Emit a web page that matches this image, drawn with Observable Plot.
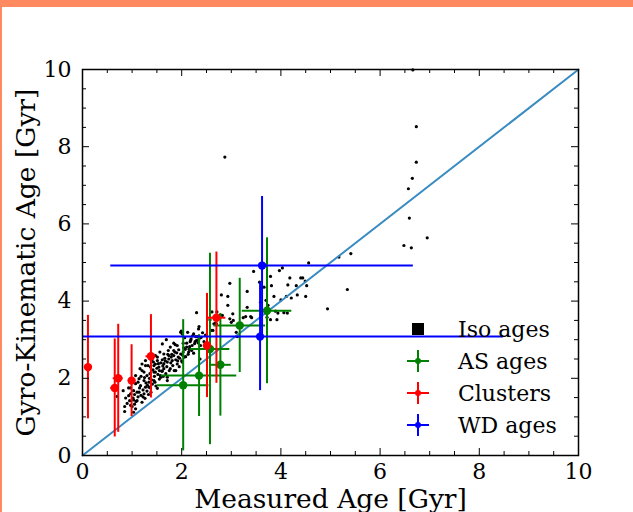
<!DOCTYPE html>
<html><head><meta charset="utf-8">
<script src="https://cdn.jsdelivr.net/npm/d3@7"></script>
<script src="https://cdn.jsdelivr.net/npm/@observablehq/plot@0.6"></script>
<style>
html,body{margin:0;padding:0;background:#fff;}
#wrap{position:relative;width:633px;height:512px;overflow:hidden;background:#fff;}
#topbar{position:absolute;left:0;top:0;width:633px;height:7px;background:#ff8a5f;}
#leftbar{position:absolute;left:0;top:0;width:2px;height:512px;background:#ff8a5f;}
#chart{position:absolute;left:0;top:7px;}
#legend{position:absolute;left:0;top:0;pointer-events:none;}
</style></head>
<body><div id="wrap"><div id="chart"></div><div id="topbar"></div><div id="leftbar"></div><svg id="legend" width="633" height="512"></svg></div>
<script>
// ---- data ----
const isoPoints = [
[6.66,9.99],[6.73,8.52],[2.87,7.73],[6.73,7.60],[6.65,7.18],[6.57,6.91],[6.59,6.15],[6.95,5.64],[6.48,5.44],[6.63,5.38],
[5.41,5.23],[5.17,5.14],[4.56,4.99],[3.45,4.77],[4.03,4.86],[3.97,4.79],[2.97,4.46],[3.79,4.64],[3.57,4.49],[3.66,4.36],
[3.81,4.40],[4.18,4.60],[4.40,4.60],[4.44,4.60],[4.49,4.52],[4.14,4.42],[4.31,4.40],[4.52,4.40],[5.34,4.30],[2.80,4.16],
[2.93,4.12],[3.32,4.25],[4.00,4.03],[4.11,4.12],[4.21,4.08],[4.33,4.16],[4.50,4.12],[3.86,4.12],[3.70,4.02],[4.94,3.80],
[3.32,3.84],[2.93,3.89],[3.60,4.34],[3.59,3.97],[3.89,3.74],[4.13,3.69],[3.72,3.58],[2.82,3.63],
[2.71,3.72],[2.61,3.72],[2.65,3.41],[2.70,3.41],[2.63,3.24],[2.97,3.54],[3.00,3.45],[3.03,3.67],[3.24,3.57],[3.41,3.57],
[3.10,3.19],[3.94,3.69],[4.06,3.70],[2.30,3.70],[2.78,3.64],[2.57,3.52],[2.68,3.43],[2.35,3.34],[2.59,3.24],[3.04,3.50],
[3.29,3.60],[3.39,3.60],[3.12,3.08],[3.74,3.89],[3.79,3.52],[3.92,3.52],
[0.70,1.53],[0.82,1.68],[0.85,1.14],[0.85,1.27],[0.87,1.49],[0.90,1.35],[0.93,1.55],[0.93,1.75],[0.97,1.30],[0.97,1.60],
[0.97,1.75],[1.00,1.27],[1.00,1.94],[1.02,1.49],[1.03,1.12],[1.03,1.44],[1.03,1.68],[1.05,1.58],[1.07,1.21],[1.07,1.86],
[1.07,2.07],[1.08,1.40],[1.10,1.42],[1.10,1.64],[1.12,1.52],[1.14,1.64],[1.14,1.99],[1.15,1.75],[1.16,2.25],[1.17,1.81],
[1.18,1.56],[1.20,1.38],[1.20,2.20],[1.20,2.37],[1.22,1.70],[1.24,1.60],[1.24,1.94],[1.24,2.16],[1.26,1.48],[1.27,1.77],
[1.27,2.33],[1.27,2.46],[1.28,1.88],[1.30,1.67],[1.30,2.07],[1.32,2.33],[1.33,1.58],[1.34,1.77],[1.34,1.90],[1.35,2.00],
[1.36,2.12],[1.37,1.75],[1.37,2.29],[1.37,2.50],[1.38,1.64],[1.40,2.48],[1.41,1.85],[1.42,2.22],[1.44,1.94],[1.44,2.16],
[1.44,2.33],[1.45,2.05],[1.47,2.16],[1.47,2.37],[1.47,2.59],[1.48,1.80],[1.50,2.26],[1.51,1.74],[1.51,2.46],[1.51,2.55],
[1.52,2.10],[1.54,2.29],[1.55,1.98],[1.56,2.68],[1.57,2.07],[1.58,2.03],[1.58,2.40],[1.60,2.18],[1.61,2.19],[1.61,2.48],
[1.61,2.89],[1.62,2.32],[1.64,2.25],[1.64,2.38],[1.64,2.63],[1.66,2.52],[1.68,2.12],[1.69,3.00],[1.70,2.30],[1.71,1.94],
[1.71,2.03],[1.71,2.42],[1.73,2.72],[1.74,2.50],[1.74,2.59],[1.75,2.20],[1.77,2.25],[1.77,2.81],[1.78,2.40],[1.80,2.62],
[1.81,2.46],[1.82,2.33],[1.84,2.59],[1.84,2.72],[1.84,2.91],[1.85,2.20],[1.87,2.87],[1.88,2.20],[1.88,2.48],[1.90,2.66],
[1.91,2.37],[1.91,2.85],[1.93,2.55],[1.94,2.74],[1.95,2.30],[1.98,2.63],[1.98,3.19],[1.99,3.22],[2.00,2.45],[2.01,2.42],
[2.01,3.15],[2.03,2.68],[2.03,2.91],[2.04,2.79],[2.05,2.55],[2.06,3.05],[2.08,2.56],[2.10,2.81],[2.10,2.91],[2.12,3.19],
[2.13,2.62],[2.14,2.68],[2.16,2.82],[2.17,2.95],[2.18,2.98],[2.20,2.72],[2.21,2.85],[2.22,3.10],[2.24,2.65],[2.24,3.15],
[2.26,2.90],[2.28,3.08],[2.30,2.98],[2.32,3.08],[2.34,3.28],[2.35,3.02],[2.37,2.50],[2.38,2.85],[2.39,3.06],[2.42,3.18],
[2.45,2.95],[2.48,3.12],
[0.95,1.42],[1.05,1.33],[1.12,1.90],[1.18,2.05],[1.22,1.52],[1.25,2.02],[1.31,1.82],[1.39,1.96],[1.43,2.42],[1.46,1.90],
[1.53,2.38],[1.55,2.20],[1.63,2.05],[1.67,2.45],[1.72,2.62],[1.79,2.55],[1.86,2.68],[1.92,2.45],[1.96,2.52],[2.02,2.60],
[2.07,2.75],[2.15,2.75],[2.19,3.02],[2.27,2.95],[2.33,2.92]
];

const asX    = [2.03, 2.35, 2.57, 2.78, 3.17, 3.72];
const asY    = [1.82, 2.07, 2.76, 2.35, 3.37, 3.75];
const asXErr = [0.52, 0.76, 0.40, 0.22, 0.52, 0.50];
const asYErr = [1.70, 1.06, 2.48, 1.33, 1.22, 1.89];

const clX    = [0.11, 0.65, 0.72, 0.99, 1.38, 2.51, 2.70];
const clY    = [2.29, 1.75, 2.00, 1.94, 2.57, 2.85, 3.57];
const clXErr = [0.04, 0.08, 0.10, 0.05, 0.10, 0.05, 0.19];
const clYErr = [1.34, 1.27, 1.40, 0.93, 1.08, 1.35, 1.70];

const wdX    = [3.62, 3.58];
const wdY    = [4.92, 3.08];
const wdXErr = [3.05, 4.91];
const wdYErr = [1.79, 1.40];

const diagonal = [0, 10];
const majorTicks = [0, 2, 4, 6, 8, 10];
const minorTicks = [0.5,1,1.5,2.5,3,3.5,4.5,5,5.5,6.5,7,7.5,8.5,9,9.5];

const legendItems = [
  {label: "Iso ages", color: "black", kind: "square"},
  {label: "AS ages", color: "green", kind: "err"},
  {label: "Clusters", color: "red", kind: "err"},
  {label: "WD ages", color: "blue", kind: "err"}
];

// ---- build tables ----
const toRows = (X, Y, XE, YE) => X.map((x, i) => ({x, y: Y[i], xe: XE[i], ye: YE[i]}));
const asRows = toRows(asX, asY, asXErr, asYErr);
const clRows = toRows(clX, clY, clXErr, clYErr);
const wdRows = toRows(wdX, wdY, wdXErr, wdYErr);

const W = 633, H = 505, mL = 82, mR = 55, mT = 62, mB = 57;
const innerH = H - mT - mB, innerW = W - mL - mR;
const MAJ = 7, MIN = 4;

function errMarks(rows, color) {
  return [
    Plot.ruleX(rows, {x: "x", y1: d => d.y - d.ye, y2: d => d.y + d.ye, stroke: color, strokeWidth: 2, clip: true}),
    Plot.ruleY(rows, {y: "y", x1: d => d.x - d.xe, x2: d => d.x + d.xe, stroke: color, strokeWidth: 2, clip: true}),
    Plot.dot(rows, {x: "x", y: "y", r: 4.2, fill: color, stroke: null})
  ];
}

const chart = Plot.plot({
  width: W, height: H,
  marginLeft: mL, marginRight: mR, marginTop: mT, marginBottom: mB,
  x: {domain: [0, 10]},
  y: {domain: [0, 10]},
  style: {fontFamily: '"DejaVu Serif", serif', fontSize: "22px", color: "black", background: "white", overflow: "visible"},
  marks: [
    Plot.dot(isoPoints, {x: d => d[0], y: d => d[1], r: 1.6, fill: "black", stroke: null}),
    Plot.line(diagonal, {x: d => d, y: d => d, stroke: "#3a8cc2", strokeWidth: 2}),
    ...errMarks(asRows, "green"),
    ...errMarks(clRows, "red"),
    ...errMarks(wdRows, "blue"),
    // inward ticks
    Plot.tickX(majorTicks, {x: d => d, insetTop: innerH - MAJ, stroke: "black", strokeWidth: 1}),
    Plot.tickX(majorTicks, {x: d => d, insetBottom: innerH - MAJ, stroke: "black", strokeWidth: 1}),
    Plot.tickX(minorTicks, {x: d => d, insetTop: innerH - MIN, stroke: "black", strokeWidth: 1}),
    Plot.tickX(minorTicks, {x: d => d, insetBottom: innerH - MIN, stroke: "black", strokeWidth: 1}),
    Plot.tickY(majorTicks, {y: d => d, insetRight: innerW - MAJ, stroke: "black", strokeWidth: 1}),
    Plot.tickY(majorTicks, {y: d => d, insetLeft: innerW - MAJ, stroke: "black", strokeWidth: 1}),
    Plot.tickY(minorTicks, {y: d => d, insetRight: innerW - MIN, stroke: "black", strokeWidth: 1}),
    Plot.tickY(minorTicks, {y: d => d, insetLeft: innerW - MIN, stroke: "black", strokeWidth: 1}),
    Plot.frame({stroke: "black", strokeWidth: 1.5}),
    Plot.axisX({ticks: majorTicks, tickSize: 0, tickPadding: 8, fontSize: 22, label: null, tickFormat: d => String(d)}),
    Plot.axisY({ticks: majorTicks, tickSize: 0, tickPadding: 11, fontSize: 22, label: null, tickFormat: d => String(d)}),
    Plot.text(["Measured Age [Gyr]"], {frameAnchor: "bottom", dy: 52, lineAnchor: "bottom", fontSize: 26.5, fill: "black"}),
    Plot.text(["Gyro-Kinematic Age [Gyr]"], {frameAnchor: "left", dx: -56, rotate: -90, textAnchor: "middle", lineAnchor: "middle", fontSize: 26.5, fill: "black"})
  ]
});
document.getElementById("chart").appendChild(chart);

// ---- legend ----
const lg = d3.select("#legend");
const lx = 418, tx = 458, y0 = 329, dyRow = 32;
legendItems.forEach((it, i) => {
  const cy = y0 + i * dyRow;
  if (it.kind === "square") {
    lg.append("rect").attr("x", lx - 6).attr("y", cy - 6).attr("width", 12).attr("height", 12).attr("fill", it.color);
  } else {
    lg.append("line").attr("x1", lx).attr("x2", lx).attr("y1", cy - 11).attr("y2", cy + 11).attr("stroke", it.color).attr("stroke-width", 2);
    lg.append("line").attr("x1", lx - 11).attr("x2", lx + 11).attr("y1", cy).attr("y2", cy).attr("stroke", it.color).attr("stroke-width", 2);
    lg.append("circle").attr("cx", lx).attr("cy", cy).attr("r", 3).attr("fill", it.color);
  }
  lg.append("text").attr("x", tx).attr("y", cy + 8).attr("font-family", '"DejaVu Serif", serif').attr("font-size", 22).attr("fill", "black").text(it.label);
});
</script>
</body></html>
